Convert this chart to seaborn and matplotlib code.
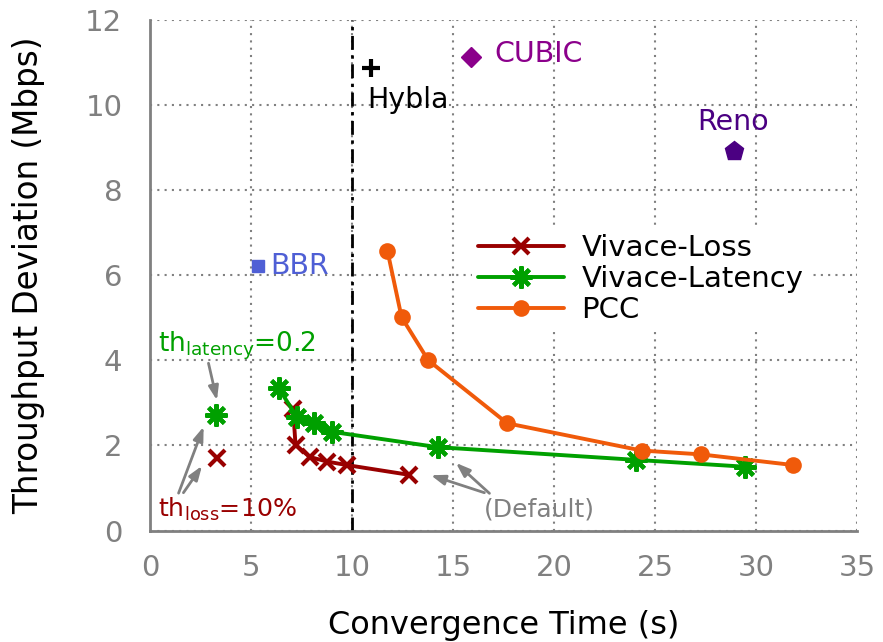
import numpy as np
import pandas as pd
import matplotlib
matplotlib.use("Agg")
import matplotlib.pyplot as plt
import seaborn as sns

# Vivace with loss-based utility (sweep of the loss threshold)
loss_x = [7.08, 7.2, 7.9, 8.77, 9.73, 12.82]
loss_y = [2.85, 2.01, 1.73, 1.62, 1.54, 1.31]
# Vivace with latency-based utility
lat_x = [6.37, 7.28, 8.1, 9.0, 14.23, 24.08, 29.46]
lat_y = [3.34, 2.66, 2.53, 2.32, 1.96, 1.66, 1.50]
# PCC
pcc_x = [11.75, 12.45, 13.77, 17.68, 24.33, 27.27, 31.83]
pcc_y = [6.57, 5.01, 4.00, 2.52, 1.88, 1.79, 1.54]

# Isolated threshold variants
th_loss_pt = (3.31, 1.70)
th_lat_pt = (3.27, 2.72)

# TCP baselines
tcp_names = ["BBR", "Hybla", "CUBIC", "Reno"]
tcp_x = [5.33, 10.92, 15.89, 28.93]
tcp_y = [6.21, 10.85, 11.12, 8.91]

C_LOSS = "#990000"
C_LAT = "#00a000"
C_PCC = "#f05a0a"
C_GRAY = "#808080"

sns.set_theme(style="white")
plt.rcParams["font.family"] = ["DejaVu Sans"]
plt.rcParams["mathtext.fontset"] = "dejavusans"
plt.rcParams["text.color"] = "black"
plt.rcParams["axes.labelcolor"] = "black"

fig, ax = plt.subplots(figsize=(8.83, 6.42), dpi=100)
fig.subplots_adjust(left=0.170, right=0.9706, top=0.9696, bottom=0.1735)

star = (8, 2, 0)

# deadline at 10 s
ax.axvline(10, color="black", lw=2, linestyle=(0, (5, 2, 1.2, 2)), zorder=2)

sns.lineplot(x=loss_x, y=loss_y, ax=ax, sort=False, color=C_LOSS, lw=2.8,
             marker="x", markersize=12, markeredgewidth=3, markeredgecolor=C_LOSS,
             label="Vivace-Loss", zorder=4)
sns.lineplot(x=lat_x, y=lat_y, ax=ax, sort=False, color=C_LAT, lw=2.8,
             marker=star, markersize=16, markeredgewidth=3, markeredgecolor=C_LAT,
             label="Vivace-Latency", zorder=5)
sns.lineplot(x=pcc_x, y=pcc_y, ax=ax, sort=False, color=C_PCC, lw=2.8,
             marker="o", markersize=12, markeredgewidth=0,
             label="PCC", zorder=6)

ax.plot(*th_loss_pt, marker="x", ms=12, mew=3, color=C_LOSS, ls="none", zorder=4)
ax.plot(*th_lat_pt, marker=star, ms=16, mew=3, color=C_LAT, ls="none", zorder=5)

# TCP baselines with their own marker and colour
tcp_style = {
    "BBR": dict(marker="s", ms=9, color="#4f5fd5"),
    "Hybla": dict(marker="+", ms=13, mew=3, color="black"),
    "CUBIC": dict(marker="D", ms=10, color="#8b008b"),
    "Reno": dict(marker="p", ms=14, color="#4b0082"),
}
for name, x, y in zip(tcp_names, tcp_x, tcp_y):
    st = tcp_style[name]
    ax.plot(x, y, ls="none", zorder=8, **st)

LFS = 20.5
ax.text(5.96, 6.21, "BBR", color="#4f5fd5", fontsize=LFS, va="center", ha="left")
ax.text(10.77, 10.12, "Hybla", color="black", fontsize=LFS, va="center", ha="left")
ax.text(17.03, 11.2, "CUBIC", color="#8b008b", fontsize=LFS, va="center", ha="left")
ax.text(27.1, 9.6, "Reno", color="#4b0082", fontsize=LFS, va="center", ha="left")

# threshold annotations
ax.text(0.4, 4.2, r"th$_{\mathrm{latency}}$=0.2", color=C_LAT, fontsize=19,
        va="baseline", ha="left")
ax.text(0.4, 0.32, r"th$_{\mathrm{loss}}$=10%", color=C_LOSS, fontsize=18.2,
        va="baseline", ha="left")
ax.text(16.53, 0.32, "(Default)", color=C_GRAY, fontsize=18, va="baseline", ha="left")

arrow_kw = dict(arrowstyle="-|>,head_length=0.7,head_width=0.25", color=C_GRAY, lw=2,
                shrinkA=0, shrinkB=0)
arrows = [
    ((2.89, 3.93), (3.31, 3.06)),
    ((1.41, 0.88), (2.65, 2.44)),
    ((1.65, 0.89), (2.57, 1.52)),
    ((16.8, 0.875), (15.14, 1.59)),
    ((16.55, 0.89), (13.9, 1.30)),
]
for start, end in arrows:
    ax.annotate("", xy=end, xytext=start, arrowprops=arrow_kw, zorder=3)

ax.set_xlim(0, 35)
ax.set_ylim(0, 12)
ax.set_xticks(np.arange(0, 36, 5))
ax.set_yticks(np.arange(0, 13, 2))
ax.set_xlabel("Convergence Time (s)", fontsize=23, labelpad=20, color="black")
ax.set_ylabel("Throughput Deviation (Mbps)", fontsize=23.5, labelpad=29, color="black")

ax.grid(True, color=C_GRAY, lw=1.5, linestyle=(0, (1, 2.5)))
ax.set_axisbelow(True)
for side in ["top", "right"]:
    ax.spines[side].set_visible(False)
for side in ["left", "bottom"]:
    ax.spines[side].set_color(C_GRAY)
    ax.spines[side].set_linewidth(2)
ax.tick_params(axis="both", direction="in", length=10, width=2, color=C_GRAY,
               labelcolor=C_GRAY, labelsize=21)
ax.tick_params(axis="x", pad=17)
ax.tick_params(axis="y", pad=20)

leg = ax.legend(loc="upper left", bbox_to_anchor=(0.435, 0.62), fontsize=21,
                frameon=True, framealpha=1, facecolor="white", edgecolor="none",
                handlelength=2.95, borderpad=0.2, labelspacing=0.1, handletextpad=0.6)
for t in leg.get_texts():
    t.set_color("black")
leg.set_zorder(7)

fig.savefig("out.png", dpi=100)
